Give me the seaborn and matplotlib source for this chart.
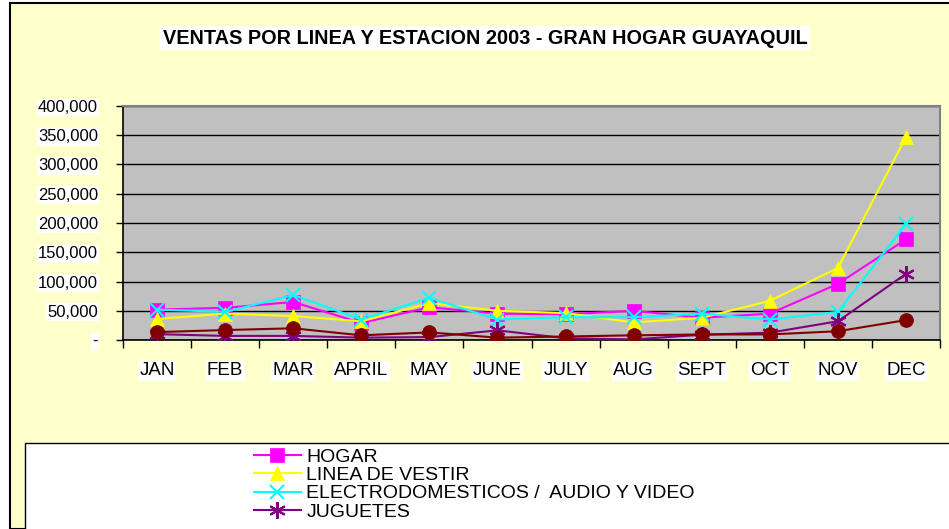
import matplotlib
matplotlib.use("Agg")
import matplotlib.pyplot as plt
import matplotlib.patches as mpatches
from matplotlib.ticker import FuncFormatter, MultipleLocator
import numpy as np
import pandas as pd
import seaborn as sns

months = ["JAN", "FEB", "MAR", "APRIL", "MAY", "JUNE", "JULY", "AUG", "SEPT", "OCT", "NOV", "DEC"]

hogar = [52000, 55000, 65000, 29000, 56000, 45000, 44000, 50000, 38000, 45000, 96000, 172000]
vestir = [36000, 45000, 41000, 32000, 63000, 50000, 46000, 30000, 38000, 67000, 123000, 347000]
electro = [52000, 48000, 77000, 35000, 72000, 35000, 39000, 39000, 45000, 35000, 48000, 198000]
juguetes = [10000, 7000, 7000, 4000, 5000, 16500, 3000, 1000, 9000, 12500, 32000, 113000]
otros = [13500, 17000, 20000, 8000, 13000, 4000, 6000, 8000, 9500, 9500, 15000, 34000]

series = [
    ("HOGAR", hogar, "#FF00FF", "s", 10),
    ("LINEA DE VESTIR", vestir, "#FFFF00", "^", 10),
    ("ELECTRODOMESTICOS /  AUDIO Y VIDEO", electro, "#00FFFF", "x", 10),
    ("JUGUETES", juguetes, "#800080", (6, 2, 0), 12),
    ("_otros", otros, "#800000", "o", 10),
]

plt.rcParams["font.family"] = ["Liberation Sans", "DejaVu Sans"]

fig = plt.figure(figsize=(9.49, 5.29), dpi=100)
fig.patch.set_facecolor("white")
W, H = 949, 529

# chart area background
fig.patches.append(mpatches.Rectangle((10 / W, 0), 1, 1 - 3 / H, transform=fig.transFigure,
                                      facecolor="#FFFFCC", edgecolor="black", linewidth=1.5, zorder=-10))
# legend box
fig.patches.append(mpatches.Rectangle((25 / W, -0.1), 1, 0.1 + 1 - 443 / H, transform=fig.transFigure,
                                      facecolor="white", edgecolor="black", linewidth=1, zorder=-5))

ax = fig.add_axes([123 / W, 1 - 340 / H, (940 - 123) / W, (340 - 106) / H])
ax.set_facecolor("#C0C0C0")

x = np.arange(len(months))
for name, vals, color, marker, ms in series:
    df = pd.DataFrame({"month": x, "ventas": vals})
    sns.lineplot(data=df, x="month", y="ventas", ax=ax, color=color, marker=marker,
                 markersize=ms, markeredgecolor=color, markeredgewidth=1.5 if marker in ("x", (6, 2, 0)) else 0.5,
                 linewidth=1.5, label=name, legend=False, zorder=3)

ax.set_xlim(-0.5, len(months) - 0.5)
ax.set_ylim(0, 400000)
ax.yaxis.set_major_locator(MultipleLocator(50000))
ax.yaxis.set_major_formatter(FuncFormatter(lambda v, p: "-" if v == 0 else f"{int(v):,}"))
ax.grid(axis="y", color="black", linewidth=1)
ax.set_axisbelow(True)

ax.set_xticks(x)
ax.set_xticklabels(months)
ax.set_xticks(np.arange(-0.5, len(months)), minor=True)
ax.tick_params(axis="x", which="major", length=0, pad=16, labelsize=13.5)
ax.tick_params(axis="x", which="minor", length=6, width=1, direction="out")
ax.tick_params(axis="y", length=5, width=1, pad=13, labelsize=12)
for lbl in ax.get_yticklabels() + ax.get_xticklabels():
    lbl.set_bbox(dict(facecolor="white", edgecolor="none", pad=1))

ax.set_xlabel("")
ax.set_ylabel("")
for s in ["left", "bottom"]:
    ax.spines[s].set_color("black")
    ax.spines[s].set_linewidth(1.2)
for s in ["top", "right"]:
    ax.spines[s].set_color("#808080")
    ax.spines[s].set_linewidth(1.5)

fig.text(485 / W, 1 - 38 / H, "VENTAS POR LINEA Y ESTACION 2003 - GRAN HOGAR GUAYAQUIL",
         ha="center", va="center", fontsize=14.3, fontweight="bold",
         bbox=dict(facecolor="white", edgecolor="none", pad=2))

handles, labels = ax.get_legend_handles_labels()
fig.legend(handles, labels, loc="upper left", bbox_to_anchor=(254 / W, 1 - 448 / H),
           frameon=False, fontsize=14, handlelength=2.4, handletextpad=0.3,
           labelspacing=0.04, borderpad=0, borderaxespad=0)

fig.savefig("out.png", dpi=100, facecolor=fig.get_facecolor())
